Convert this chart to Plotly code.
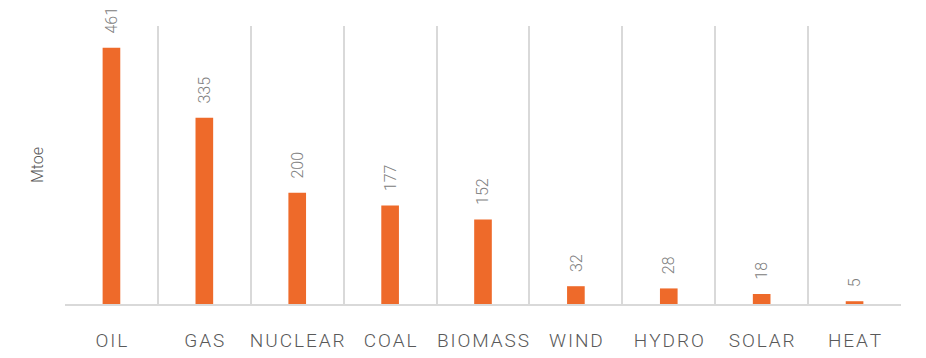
import plotly.graph_objects as go

categories = ["OIL", "GAS", "NUCLEAR", "COAL", "BIOMASS", "WIND", "HYDRO", "SOLAR", "HEAT"]
values = [461, 335, 200, 177, 152, 32, 28, 18, 5]

def spaced(s):
    return "\u200a".join(s)

tick_text = [spaced(c) for c in categories]

FONT = "Roboto"

fig = go.Figure()
fig.add_trace(go.Bar(
    x=categories, y=values,
    marker=dict(color="#EE6A2A", line=dict(width=0)),
    hoverinfo="x+y",
))

for c, v in zip(categories, values):
    fig.add_annotation(
        x=c, y=v, text=str(v), textangle=-90, showarrow=False,
        yanchor="bottom", yshift=13, xanchor="center", borderpad=0,
        font=dict(family=FONT, size=16, color="#808080", weight=300),
    )

fig.update_layout(
    width=926, height=358,
    margin=dict(l=57, r=33, t=18, b=62, autoexpand=False),
    paper_bgcolor="white", plot_bgcolor="white",
    bargap=0.81,
    showlegend=False,
    font=dict(family=FONT, color="#595959", weight=300),
)
fig.update_xaxes(
    type="category",
    tickvals=categories, ticktext=tick_text,
    tickson="boundaries", tickangle=0,
    showgrid=True, gridcolor="#d9d9d9", gridwidth=1.5,
    showline=True, linecolor="#d9d9d9", linewidth=2,
    ticks="", ticklabelstandoff=18,
    tickfont=dict(family=FONT, size=19, color="#595959", weight=300),
    range=[-0.5, 8.5], automargin=False,
)
fig.update_yaxes(
    range=[0, 500], showgrid=False, zeroline=False,
    showticklabels=False, ticks="", automargin=False,
    title=dict(text="Mtoe", font=dict(family=FONT, size=16, color="#595959", weight=300), standoff=16),
)

fig.write_html("out.html")
